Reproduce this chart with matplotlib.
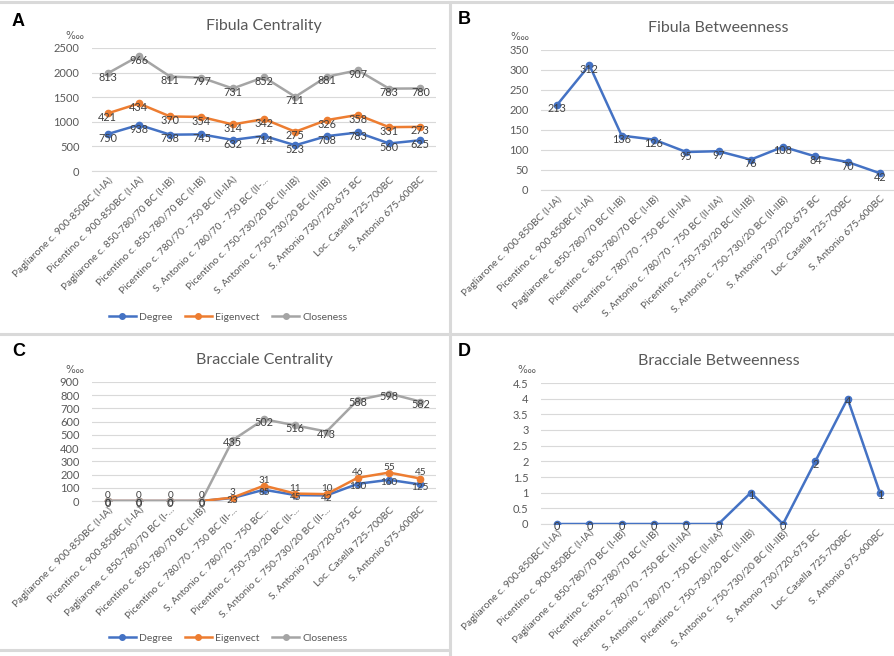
import matplotlib
matplotlib.use("Agg")
import matplotlib.pyplot as plt
from matplotlib.lines import Line2D
import numpy as np

plt.rcParams["font.family"] = ["Lato", "DejaVu Sans"]
BLUE, ORANGE, GRAY = "#4472C4", "#ED7D31", "#A5A5A5"
TXT = "#595959"
W, H = 894, 656

sites = ["Pagliarone c. 900-850BC (I-IA)", "Picentino c. 900-850BC (I-IA)",
         "Pagliarone c. 850-780/70 BC (I-IB)", "Picentino c. 850-780/70 BC (I-IB)",
         "Picentino c. 780/70 - 750 BC (II-IIA)", "S. Antonio c. 780/70 - 750 BC (II-IIA)",
         "Picentino c. 750-730/20 BC (II-IIB)", "S. Antonio c. 750-730/20 BC (II-IIB)",
         "S. Antonio 730/720-675 BC", "Loc. Casella 725-700BC", "S. Antonio 675-600BC"]
labels_a = sites[:5] + ["S. Antonio c. 780/70 - 750 BC (II-..."] + sites[6:]
labels_c = [sites[0], sites[1], "Pagliarone c. 850-780/70 BC (I-...", sites[3],
            "Picentino c. 780/70 - 750 BC (II-...", "S. Antonio c. 780/70 - 750 BC...",
            "Picentino c. 750-730/20 BC (II-...", "S. Antonio c. 750-730/20 BC (II-...",
            sites[8], sites[9], sites[10]]

fib_degree = [750, 938, 738, 745, 632, 714, 523, 708, 783, 560, 625]
fib_eigen = [421, 434, 370, 354, 314, 342, 275, 326, 358, 331, 273]
fib_close = [813, 966, 811, 797, 731, 852, 711, 881, 907, 783, 780]
fib_betw = [213, 312, 136, 126, 95, 97, 76, 108, 84, 70, 42]

bra_degree = [0, 0, 0, 0, 23, 85, 45, 42, 130, 160, 125]
bra_eigen = [0, 0, 0, 0, 3, 31, 11, 10, 46, 55, 45]
bra_close = [0, 0, 0, 0, 435, 502, 516, 473, 588, 598, 582]
bra_betw = [0, 0, 0, 0, 0, 0, 1, 0, 2, 4, 1]

fig = plt.figure(figsize=(W / 100, H / 100), dpi=100)


def px_axes(x0, x1, ytop, ybot):
    return fig.add_axes([x0 / W, 1 - ybot / H, (x1 - x0) / W, (ybot - ytop) / H])


def style(ax, ymax, step, xlabels, title, unit_x, letter, letter_xy):
    n = len(xlabels)
    ax.set_xlim(-0.5, n - 0.5)
    ax.set_ylim(0, ymax)
    ax.set_yticks(np.arange(0, ymax + step / 2, step))
    ax.yaxis.set_major_formatter(matplotlib.ticker.FormatStrFormatter("%g"))
    ax.grid(axis="y", color="#D9D9D9", lw=0.8)
    ax.set_axisbelow(True)
    for s in ["top", "right", "left"]:
        ax.spines[s].set_visible(False)
    ax.spines["bottom"].set_color("#D9D9D9")
    ax.tick_params(length=0, colors=TXT, labelsize=8, pad=9)
    ax.set_xticks(range(n))
    ax.set_xticklabels(xlabels, rotation=45, ha="right", rotation_mode="anchor", fontsize=7.4)
    ax.tick_params(axis="x", pad=3)
    ax.set_title(title, color=TXT, fontsize=11.5, pad=13)
    ax.text(unit_x, 1.06, "\u2031", transform=ax.transAxes, color=TXT, fontsize=7.5,
            ha="center", va="bottom")
    fig.text(letter_xy[0] / W, 1 - letter_xy[1] / H, letter, fontsize=13, fontweight="bold",
             family="Liberation Sans", va="center", ha="left")


def series(ax, y, shown, color, dy=-3, fs=7.8):
    x = np.arange(len(y))
    ax.plot(x, y, color=color, lw=1.8, marker="o", ms=4.5, zorder=3)
    for xi, yi, s in zip(x, y, shown):
        ax.annotate(f"{s:g}", (xi, yi), xytext=(0, dy), textcoords="offset points",
                    ha="center", va="center", fontsize=fs, color="#404040", zorder=4)


def legend(ax, ycen):
    handles = [Line2D([], [], color=c, lw=1.8, marker="o", ms=4) for c in (BLUE, ORANGE, GRAY)]
    fig.legend(handles, ["Degree", "Eigenvect", "Closeness"], loc="center",
               bbox_to_anchor=(228 / W, 1 - ycen / H), ncol=3, frameon=False, fontsize=7.5,
               labelcolor=TXT, handlelength=2.6, columnspacing=1.2, handletextpad=0.3)


# A
ax = px_axes(92, 436, 48, 171)
s1 = np.array(fib_degree)
s2 = s1 + np.array(fib_eigen)
s3 = s2 + np.array(fib_close)
series(ax, s1, fib_degree, BLUE)
series(ax, s2, fib_eigen, ORANGE)
series(ax, s3, fib_close, GRAY)
style(ax, 2500, 500, labels_a, "Fibula Centrality", -0.05, "A", (12, 21))
legend(ax, 317)

# B
ax = px_axes(541, 896, 50, 190)
series(ax, fib_betw, fib_betw, BLUE)
style(ax, 350, 50, sites, "Fibula Betweenness", -0.06, "B", (458, 20))

# C (labels of the two low lines pushed apart a little)
ax = px_axes(92, 436, 382, 501)
c1 = np.array(bra_degree)
c2 = c1 + np.array(bra_eigen)
c3 = c2 + np.array(bra_close)
series(ax, c1, bra_degree, BLUE, dy=-2, fs=7.2)
series(ax, c2, bra_eigen, ORANGE, dy=4, fs=7.2)
series(ax, c3, bra_close, GRAY, dy=-2)
style(ax, 900, 100, labels_c, "Bracciale Centrality", -0.05, "C", (12, 352))
legend(ax, 638)

# D
ax = px_axes(541, 896, 383, 524)
series(ax, bra_betw, bra_betw, BLUE, dy=-2)
style(ax, 4.5, 0.5, sites, "Bracciale Betweenness", -0.04, "D", (458, 352))

# panel borders
for y in (2, 334):
    fig.add_artist(Line2D([0, 1], [1 - y / H] * 2, color="#D9D9D9", lw=2.2))
fig.add_artist(Line2D([0, 447 / W], [1 - 650 / H] * 2, color="#D9D9D9", lw=2.2))
fig.add_artist(Line2D([450 / W] * 2, [0, 1 - 2 / H], color="#D9D9D9", lw=2.2))

fig.savefig("out.png", dpi=100)
